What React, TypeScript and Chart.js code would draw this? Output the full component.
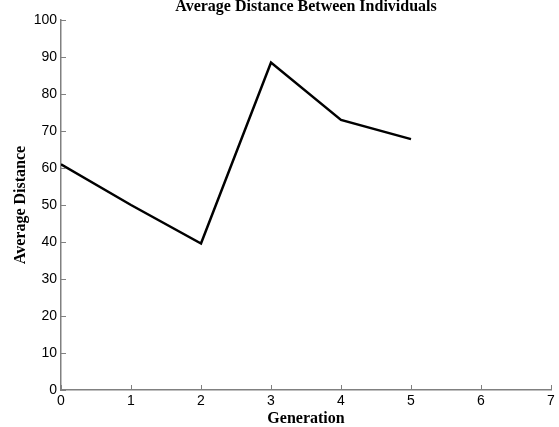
import React, { useEffect, useRef } from 'react';
import { Chart, registerables } from 'chart.js';

Chart.register(...registerables);

const titleText = 'Average Distance Between Individuals';
const xTitle = 'Generation';
const yTitle = 'Average Distance';
const generations = [0, 1, 2, 3, 4, 5];
const avgDistance = [61, 50, 39.6, 88.5, 73, 67.8];
const xMin = 0;
const xMax = 7;
const yMin = 0;
const yMax = 100;

const AXIS_COLOR = '#808080';

const inwardTicks = {
  id: 'inwardTicks',
  afterDraw(chart: any) {
    const { ctx, chartArea, scales } = chart;
    const x = scales.x;
    const y = scales.y;
    ctx.save();
    ctx.strokeStyle = AXIS_COLOR;
    ctx.lineWidth = 1;
    ctx.beginPath();
    x.ticks.forEach((t: any) => {
      const px = Math.round(x.getPixelForValue(t.value)) + 0.5;
      ctx.moveTo(px, chartArea.bottom);
      ctx.lineTo(px, chartArea.bottom - 5);
    });
    y.ticks.forEach((t: any) => {
      const py = Math.round(y.getPixelForValue(t.value)) + 0.5;
      ctx.moveTo(chartArea.left, py);
      ctx.lineTo(chartArea.left + 5, py);
    });
    ctx.stroke();
    // title centred over the plot area
    ctx.fillStyle = '#000';
    ctx.font = 'bold 16px "Liberation Serif"';
    ctx.textAlign = 'center';
    ctx.textBaseline = 'alphabetic';
    ctx.fillText(titleText, (chartArea.left + chartArea.right) / 2, 11);
    ctx.restore();
  },
};

export default function App() {
  const ref = useRef<HTMLCanvasElement>(null);
  useEffect(() => {
    if (!ref.current) return;
    const chart = new Chart(ref.current, {
      type: 'scatter',
      data: {
        datasets: [
          {
            data: generations.map((g, i) => ({ x: g, y: avgDistance[i] })),
            showLine: true,
            borderColor: '#000',
            borderWidth: 2.5,
            pointRadius: 0,
            fill: false,
            tension: 0,
          },
        ],
      },
      options: {
        animation: false,
        responsive: false,
        layout: { padding: { left: 0, right: 8, top: 20, bottom: 0 } },
        plugins: {
          legend: { display: false },
          tooltip: { enabled: false },
          title: { display: false },
        },
        scales: {
          x: {
            type: 'linear',
            min: xMin,
            max: xMax,
            ticks: {
              stepSize: 1,
              color: '#000',
              font: { family: 'Liberation Sans', size: 14 },
              padding: 3,
            },
            grid: { display: true, drawOnChartArea: false, drawTicks: false, tickLength: 0 },
            border: { display: true, color: AXIS_COLOR, width: 1.5 },
            title: {
              display: true,
              text: xTitle,
              color: '#000',
              font: { family: 'Liberation Serif', size: 16, weight: 'bold', lineHeight: 1 },
              padding: { top: 0, bottom: 0 },
            },
            afterFit: (s: any) => {
              s.height = 37;
            },
          },
          y: {
            type: 'linear',
            min: yMin,
            max: yMax,
            ticks: {
              stepSize: 10,
              color: '#000',
              font: { family: 'Liberation Sans', size: 14 },
              padding: 4,
            },
            grid: { display: true, drawOnChartArea: false, drawTicks: false, tickLength: 0 },
            border: { display: true, color: AXIS_COLOR, width: 1.5 },
            title: {
              display: true,
              text: yTitle,
              color: '#000',
              font: { family: 'Liberation Serif', size: 16, weight: 'bold', lineHeight: 1 },
              padding: { top: 13, bottom: 0 },
            },
            afterFit: (s: any) => {
              s.width = 61;
            },
          },
        },
      },
      plugins: [inwardTicks],
    } as any);
    return () => chart.destroy();
  }, []);
  return (
    <div style={{ position: 'fixed', left: 0, top: 0, width: 559, height: 427, background: '#fff' }}>
      <canvas ref={ref} width={559} height={427} style={{ width: 559, height: 427 }} />
    </div>
  );
}
